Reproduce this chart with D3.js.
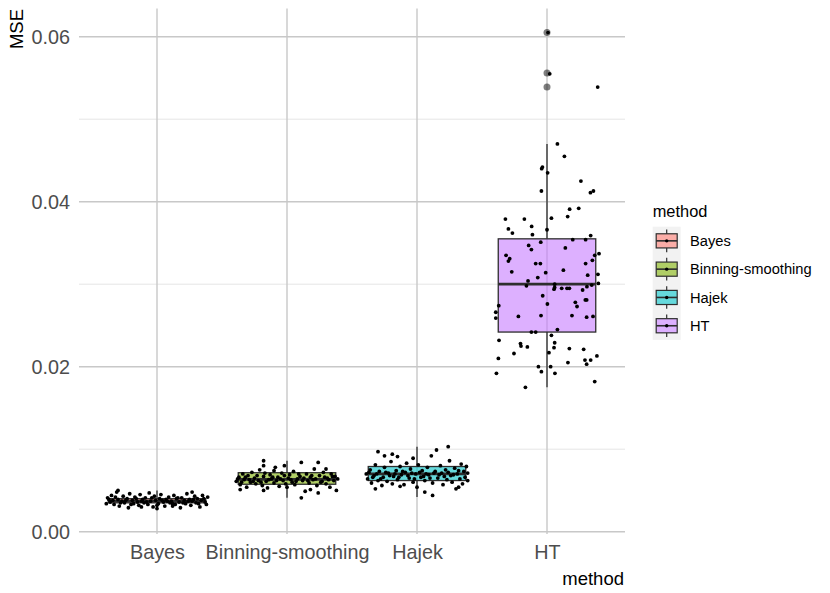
<!DOCTYPE html>
<html>
<head>
<meta charset="utf-8">
<script src="https://cdn.jsdelivr.net/npm/d3@7"></script>
<style>
  body { margin: 0; background: #fff; }
  svg { font-family: "Liberation Sans", Arial, sans-serif; display: block; }
</style>
</head>
<body>
<div id="chart"></div>
<script>
// categories + colours (ggplot default hues)
const methods = ["Bayes", "Binning-smoothing", "Hajek", "HT"];
const fills = ["#F8766D", "#7CAE00", "#00BFC4", "#C77CFF"];

// boxplot stats
const lowerWhisker = [0.0028, 0.0041, 0.0042, 0.0175];
const q1 = [0.0035, 0.00575, 0.0062, 0.0242];
const median = [0.0037, 0.00635, 0.0070, 0.0300];
const q3 = [0.0040, 0.00715, 0.0079, 0.0355];
const upperWhisker = [0.0050, 0.0086, 0.0103, 0.0470];
const outliers = [[], [], [], [0.0605, 0.0556, 0.0539]];

// axis
const yTicks = [0, 0.02, 0.04, 0.06];
const yMinor = [0.01, 0.03, 0.05];
const yLimits = [-0.00028, 0.06342];

// jittered points: [jitter (fraction of category step), MSE]
const bayesPoints = [
  [-0.38,0.0041],[-0.36,0.0036],[-0.35,0.0044],[-0.33,0.0033],[-0.31,0.0048],[-0.30,0.0039],[-0.29,0.0031],[-0.27,0.0037],
  [-0.26,0.0043],[-0.25,0.0035],[-0.23,0.0040],[-0.22,0.0029],[-0.21,0.0046],[-0.19,0.0038],[-0.18,0.0034],[-0.17,0.0042],
  [-0.15,0.0036],[-0.14,0.0032],[-0.13,0.0045],[-0.11,0.0039],[-0.10,0.0035],[-0.09,0.0041],[-0.07,0.0033],[-0.06,0.0047],
  [-0.05,0.0037],[-0.03,0.0030],[-0.02,0.0043],[-0.01,0.0038],[0.01,0.0034],[0.02,0.0040],[0.03,0.0045],[0.05,0.0036],
  [0.06,0.0031],[0.07,0.0039],[0.09,0.0042],[0.10,0.0035],[0.11,0.0037],[0.13,0.0044],[0.14,0.0033],[0.15,0.0040],
  [0.17,0.0036],[0.18,0.0029],[0.19,0.0041],[0.21,0.0038],[0.22,0.0034],[0.23,0.0046],[0.25,0.0039],[0.26,0.0032],
  [0.27,0.0037],[0.29,0.0043],[0.30,0.0035],[0.31,0.0040],[0.33,0.0030],[0.34,0.0038],[0.35,0.0044],[0.37,0.0036],
  [0.38,0.0033],[0.39,0.0042],[-0.39,0.0034],[-0.37,0.0039],[-0.34,0.0038],[-0.32,0.0042],[-0.28,0.0035],[-0.24,0.0038],
  [-0.20,0.0033],[-0.16,0.0040],[-0.12,0.0037],[-0.08,0.0036],[-0.04,0.0041],[0.00,0.0032],[0.04,0.0038],[0.08,0.0037],
  [0.12,0.0034],[0.16,0.0041],[0.20,0.0035],[0.24,0.0037],[0.28,0.0039],[0.32,0.0034],[0.36,0.0040],[-0.30,0.0050],
  [0.00,0.0028],[0.27,0.0048],[-0.12,0.0030],[0.12,0.0031]
];
const binningPoints = [
  [-0.39,0.0061],[-0.37,0.0066],[-0.36,0.0057],[-0.34,0.0070],[-0.33,0.0063],[-0.31,0.0054],[-0.30,0.0068],[-0.28,0.0060],
  [-0.27,0.0072],[-0.25,0.0065],[-0.24,0.0058],[-0.22,0.0062],[-0.21,0.0075],[-0.19,0.0056],[-0.18,0.0067],[-0.18,0.0086],
  [-0.18,0.0080],[-0.16,0.0061],[-0.15,0.0053],[-0.13,0.0069],[-0.12,0.0064],[-0.10,0.0059],[-0.09,0.0078],[-0.07,0.0066],
  [-0.06,0.0055],[-0.04,0.0071],[-0.03,0.0062],[-0.02,0.0080],[-0.01,0.0058],[0.01,0.0065],[0.02,0.0069],[0.04,0.0060],
  [0.05,0.0073],[0.06,0.0057],[0.08,0.0064],[0.10,0.0067],[0.11,0.0041],[0.11,0.0084],[0.12,0.0062],[0.14,0.0049],
  [0.15,0.0070],[0.17,0.0059],[0.18,0.0066],[0.18,0.0051],[0.20,0.0063],[0.21,0.0076],[0.23,0.0056],[0.24,0.0047],
  [0.24,0.0084],[0.25,0.0068],[0.27,0.0061],[0.28,0.0072],[0.30,0.0058],[0.31,0.0065],[0.33,0.0054],[0.34,0.0070],
  [0.36,0.0062],[0.37,0.0067],[0.38,0.0050],[0.39,0.0064],[-0.38,0.0064],[-0.35,0.0060],[-0.32,0.0066],[-0.29,0.0063],
  [-0.26,0.0061],[-0.23,0.0068],[-0.20,0.0060],[-0.17,0.0071],[-0.14,0.0063],[-0.11,0.0066],[-0.08,0.0062],[-0.05,0.0064],
  [-0.02,0.0068],[0.03,0.0063],[0.07,0.0061],[0.09,0.0070],[0.13,0.0065],[0.16,0.0062],[0.19,0.0068],[0.22,0.0064],
  [0.26,0.0060],[0.29,0.0066],[0.32,0.0063],[0.35,0.0067],[-0.36,0.0051],[-0.18,0.0050],[0.00,0.0054],[-0.10,0.0074],
  [0.30,0.0076]
];
const hajekPoints = [
  [-0.39,0.0070],[-0.38,0.0064],[-0.36,0.0075],[-0.35,0.0059],[-0.33,0.0068],[-0.32,0.0081],[-0.30,0.0062],[-0.30,0.0097],
  [-0.29,0.0073],[-0.27,0.0056],[-0.26,0.0066],[-0.25,0.0078],[-0.25,0.0092],[-0.23,0.0061],[-0.22,0.0071],[-0.20,0.0085],
  [-0.19,0.0058],[-0.19,0.0094],[-0.18,0.0067],[-0.16,0.0074],[-0.15,0.0063],[-0.15,0.0091],[-0.13,0.0079],[-0.12,0.0069],
  [-0.10,0.0057],[-0.09,0.0072],[-0.08,0.0083],[-0.06,0.0065],[-0.05,0.0076],[-0.03,0.0060],[-0.03,0.0089],[-0.01,0.0070],
  [0.00,0.0054],[0.01,0.0081],[0.03,0.0066],[0.04,0.0074],[0.06,0.0062],[0.08,0.0078],[0.09,0.0069],[0.11,0.0092],
  [0.12,0.0059],[0.12,0.0044],[0.14,0.0073],[0.15,0.0099],[0.16,0.0065],[0.18,0.0080],[0.19,0.0071],[0.20,0.0057],
  [0.22,0.0075],[0.23,0.0063],[0.25,0.0086],[0.26,0.0068],[0.27,0.0060],[0.29,0.0077],[0.30,0.0052],[0.31,0.0070],
  [0.33,0.0064],[0.34,0.0082],[0.35,0.0058],[0.36,0.0073],[0.37,0.0066],[0.38,0.0079],[0.39,0.0062],[0.39,0.0071],
  [0.24,0.0103],[-0.37,0.0072],[-0.34,0.0066],[-0.31,0.0070],[-0.28,0.0064],[-0.24,0.0072],[-0.21,0.0068],[-0.17,0.0070],
  [-0.14,0.0066],[-0.11,0.0073],[-0.07,0.0068],[-0.04,0.0071],[-0.02,0.0064],[0.02,0.0072],[0.05,0.0067],[0.07,0.0070],
  [0.10,0.0065],[0.13,0.0071],[0.17,0.0069],[0.21,0.0067],[0.24,0.0072],[0.28,0.0069],[0.32,0.0074],[-0.32,0.0052],
  [-0.13,0.0055],[0.06,0.0048],[0.32,0.0054]
];
const htPoints = [
  [0.008,0.0605],[0.021,0.0555],[0.39,0.0539],[0.08,0.0470],[0.134,0.0455],[-0.035,0.0442],[-0.041,0.0440],[0.005,0.0435],
  [0.261,0.0425],[-0.043,0.0413],[0.334,0.0411],[0.357,0.0413],[0.174,0.0391],[0.244,0.0392],[0.159,0.0382],[-0.32,0.0379],
  [-0.174,0.0379],[0.034,0.0380],[-0.118,0.0370],[-0.297,0.0367],[0,0.0366],[-0.266,0.0362],[-0.112,0.0360],[0.336,0.0359],
  [0.198,0.0354],[0.297,0.0354],[-0.048,0.0351],[-0.141,0.0347],[-0.12,0.0342],[0.141,0.0344],[0.4,0.0337],[0.367,0.0335],
  [-0.315,0.0335],[-0.287,0.0331],[-0.297,0.0328],[0.349,0.0329],[-0.087,0.0325],[-0.051,0.0325],[0.297,0.0325],[-0.271,0.0315],
  [0.126,0.0317],[-0.01,0.0314],[0.392,0.0312],[0.313,0.0311],[-0.071,0.0308],[-0.146,0.0304],[-0.158,0.0298],[0.059,0.0300],
  [0.059,0.0296],[0.054,0.0294],[0.113,0.0295],[0.154,0.0295],[0.172,0.0295],[0.344,0.0299],[0.307,0.0297],[0.395,0.0301],
  [0.274,0.0293],[-0.033,0.0286],[0.295,0.0281],[0.305,0.0281],[0.218,0.0278],[0.231,0.0273],[0.003,0.0276],[-0.371,0.0274],
  [-0.394,0.0266],[-0.394,0.0259],[-0.22,0.0261],[-0.046,0.0262],[0.192,0.0262],[0.305,0.0260],[0.354,0.0261],[0.08,0.0245],
  [-0.12,0.0242],[-0.087,0.0242],[0.034,0.0238],[-0.369,0.0232],[-0.204,0.0228],[-0.2,0.0225],[-0.151,0.0224],[0.059,0.0229],
  [0.054,0.0223],[0.172,0.0222],[0.282,0.0221],[-0.254,0.0216],[0.015,0.0217],[0.384,0.0213],[-0.374,0.0210],[0.292,0.0208],
  [0.336,0.0208],[0.305,0.0203],[0.161,0.0205],[-0.066,0.0200],[0.028,0.0200],[-0.043,0.0194],[-0.389,0.0192],[0.061,0.0192],
  [0.367,0.0182],[-0.166,0.0175]
];
const pointsByMethod = [bayesPoints, binningPoints, hajekPoints, htPoints];

// layout
const W = 830, H = 593;
const panel = { left: 79, right: 625, top: 8.5, bottom: 534 };
const gridCol = "#C8C8C8", minorCol = "#DEDEDE", boxLine = "#2E2E2E";

const svg = d3.select("#chart").append("svg")
  .attr("width", W).attr("height", H);
svg.append("rect").attr("width", W).attr("height", H).attr("fill", "#fff");

const x = d3.scalePoint().domain(methods).range([panel.left, panel.right]).padding(0.6);
const y = d3.scaleLinear().domain(yLimits).range([panel.bottom, panel.top]);
const step = x.step();
const boxW = step * 0.75;

// grid lines
const grid = svg.append("g").attr("class", "grid");
grid.selectAll(".minor").data(yMinor).enter().append("line")
  .attr("x1", panel.left).attr("x2", panel.right)
  .attr("y1", d => y(d)).attr("y2", d => y(d))
  .attr("stroke", minorCol).attr("stroke-width", 0.8);
grid.selectAll(".major").data(yTicks).enter().append("line")
  .attr("x1", panel.left).attr("x2", panel.right)
  .attr("y1", d => y(d)).attr("y2", d => y(d))
  .attr("stroke", gridCol).attr("stroke-width", 1.4);
grid.selectAll(".vmajor").data(methods).enter().append("line")
  .attr("x1", d => x(d)).attr("x2", d => x(d))
  .attr("y1", panel.top).attr("y2", panel.bottom)
  .attr("stroke", gridCol).attr("stroke-width", 1.4);

// boxplots
const boxes = svg.append("g").attr("class", "boxes")
  .selectAll("g").data(methods).enter().append("g");

boxes.append("line")
  .attr("x1", d => x(d)).attr("x2", d => x(d))
  .attr("y1", (d, i) => y(q3[i])).attr("y2", (d, i) => y(upperWhisker[i]))
  .attr("stroke", boxLine).attr("stroke-width", 1.3);
boxes.append("line")
  .attr("x1", d => x(d)).attr("x2", d => x(d))
  .attr("y1", (d, i) => y(q1[i])).attr("y2", (d, i) => y(lowerWhisker[i]))
  .attr("stroke", boxLine).attr("stroke-width", 1.3);
boxes.append("rect")
  .attr("x", d => x(d) - boxW / 2)
  .attr("width", boxW)
  .attr("y", (d, i) => y(q3[i]))
  .attr("height", (d, i) => y(q1[i]) - y(q3[i]))
  .attr("fill", (d, i) => fills[i]).attr("fill-opacity", 0.6)
  .attr("stroke", boxLine).attr("stroke-width", 1.3);
boxes.append("line")
  .attr("x1", d => x(d) - boxW / 2).attr("x2", d => x(d) + boxW / 2)
  .attr("y1", (d, i) => y(median[i])).attr("y2", (d, i) => y(median[i]))
  .attr("stroke", boxLine).attr("stroke-width", 2.8);
boxes.selectAll(".outlier")
  .data((d, i) => outliers[i].map(v => ({ m: d, v })))
  .enter().append("circle")
  .attr("cx", d => x(d.m)).attr("cy", d => y(d.v)).attr("r", 3.5)
  .attr("fill", "#000").attr("fill-opacity", 0.5);

// jittered points on top
svg.append("g").attr("class", "points")
  .selectAll("g").data(methods).enter().append("g")
  .selectAll("circle")
  .data((d, i) => pointsByMethod[i].map(p => ({ m: d, j: p[0], v: p[1] })))
  .enter().append("circle")
  .attr("cx", d => x(d.m) + d.j * step)
  .attr("cy", d => y(d.v))
  .attr("r", 1.9)
  .attr("fill", "#000");

// axes (ticks hidden, theme_minimal style)
const yAxisG = svg.append("g").attr("transform", `translate(${panel.left},0)`)
  .call(d3.axisLeft(y).tickValues(yTicks).tickFormat(d3.format(".2f")).tickSize(0).tickPadding(9));
const xAxisG = svg.append("g").attr("transform", `translate(0,${panel.bottom})`)
  .call(d3.axisBottom(x).tickSize(0).tickPadding(11));
[yAxisG, xAxisG].forEach(g => {
  g.select(".domain").remove();
  g.selectAll("text").attr("fill", "#4D4D4D").style("font-size", "19.8px")
    .style("font-family", '"Liberation Sans", Arial, sans-serif');
});

// axis titles
svg.append("text")
  .attr("x", panel.right - 1).attr("y", 585)
  .attr("text-anchor", "end").style("font-size", "18.5px").attr("fill", "#000")
  .text("method");
svg.append("text")
  .attr("transform", `translate(23,${panel.top + 0.5}) rotate(-90)`)
  .attr("text-anchor", "end").style("font-size", "18.5px").attr("fill", "#000")
  .text("MSE");

// legend
const legend = svg.append("g").attr("transform", "translate(652.7,226.7)");
const keyW = 28, keyH = 28.3;
legend.append("text")
  .attr("x", 0).attr("y", -10)
  .style("font-size", "16.4px").attr("fill", "#000")
  .text("method");
legend.append("rect")
  .attr("width", keyW).attr("height", keyH * methods.length)
  .attr("fill", "#F2F2F2");
const keys = legend.selectAll(".key").data(methods).enter().append("g")
  .attr("transform", (d, i) => `translate(0,${i * keyH})`);
keys.append("line")
  .attr("x1", keyW / 2).attr("x2", keyW / 2)
  .attr("y1", keyH * 0.1).attr("y2", keyH * 0.9)
  .attr("stroke", boxLine).attr("stroke-width", 1.2);
keys.append("rect")
  .attr("x", keyW * 0.125).attr("y", keyH * 0.25)
  .attr("width", keyW * 0.75).attr("height", keyH * 0.5)
  .attr("fill", "#fff");
keys.append("rect")
  .attr("x", keyW * 0.125).attr("y", keyH * 0.25)
  .attr("width", keyW * 0.75).attr("height", keyH * 0.5)
  .attr("fill", (d, i) => fills[i]).attr("fill-opacity", 0.6)
  .attr("stroke", boxLine).attr("stroke-width", 1.2);
keys.append("line")
  .attr("x1", keyW * 0.125).attr("x2", keyW * 0.875)
  .attr("y1", keyH / 2).attr("y2", keyH / 2)
  .attr("stroke", boxLine).attr("stroke-width", 1.6);
keys.append("circle")
  .attr("cx", keyW / 2).attr("cy", keyH / 2).attr("r", 1.7).attr("fill", "#000");
keys.append("text")
  .attr("x", 37.3).attr("y", keyH / 2 + 5.2)
  .style("font-size", "14.7px").attr("fill", "#000")
  .text(d => d);
</script>
</body>
</html>
